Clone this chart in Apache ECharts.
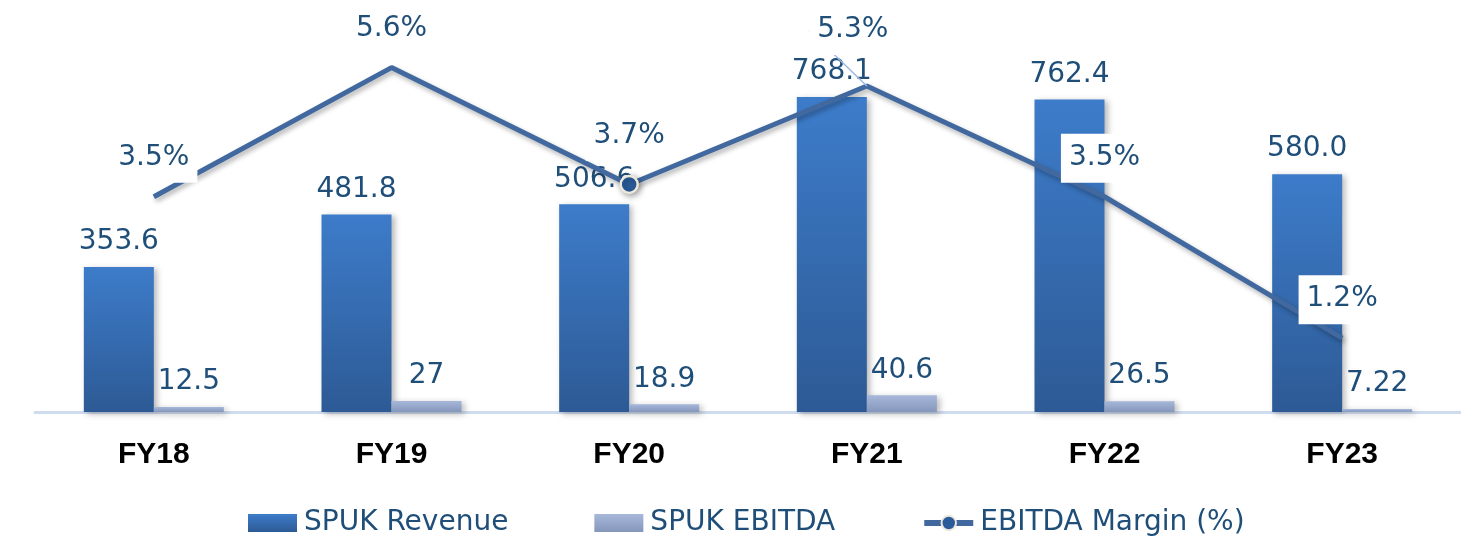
<!DOCTYPE html>
<html>
<head>
<meta charset="utf-8">
<title>SPUK Revenue, EBITDA and EBITDA Margin</title>
<script src="https://cdn.jsdelivr.net/npm/echarts@6/dist/echarts.min.js"></script>
<style>
  html, body { margin: 0; padding: 0; background: #ffffff; }
  #chart { width: 1461px; height: 539px; }
</style>
</head>
<body>
<div id="chart"></div>
<script>
// Fiscal years
const categories = ['FY18', 'FY19', 'FY20', 'FY21', 'FY22', 'FY23'];
// SPUK revenue
const revenue = [353.6, 481.8, 506.6, 768.1, 762.4, 580.0];
// SPUK EBITDA
const ebitda = [12.5, 27, 18.9, 40.6, 26.5, 7.22];
// EBITDA margin, percent
const margin = [3.5, 5.6, 3.7, 5.3, 3.5, 1.2];

const TEXT = '#1F4E79';
const LABEL_FONT = 'DejaVu Sans';

const chart = echarts.init(document.getElementById('chart'), null, { renderer: 'canvas' });

function vGrad(top, bottom) {
  return {
    type: 'linear', x: 0, y: 0, x2: 0, y2: 1,
    colorStops: [{ offset: 0, color: top }, { offset: 1, color: bottom }]
  };
}

const barShadow = {
  shadowColor: 'rgba(0,0,0,0.28)',
  shadowBlur: 6,
  shadowOffsetX: 3,
  shadowOffsetY: 2
};

// Only the FY20 point carries a visible marker; FY21's label sits off to the side with a leader line
const marginData = margin.map((v, i) => {
  const item = { value: v };
  if (i !== 2) item.symbolSize = 0;
  if (i === 3) item.labelLine = { show: true };
  return item;
});

chart.setOption({
  animation: false,
  backgroundColor: '#ffffff',
  grid: { left: 35, top: 43, width: 1447, height: 369, containLabel: false },
  legend: {
    left: 243,
    top: 504,
    itemWidth: 49,
    itemHeight: 18,
    itemGap: 86,
    textStyle: { color: TEXT, fontFamily: LABEL_FONT, fontSize: 28, padding: [0, 0, 0, 2] },
    data: [
      { name: 'SPUK Revenue', icon: 'rect' },
      { name: 'SPUK EBITDA', icon: 'rect' },
      { name: 'EBITDA Margin (%)', lineStyle: { width: 6, color: '#41699F' } }
    ]
  },
  xAxis: {
    type: 'category',
    data: categories,
    boundaryGap: true,
    axisLine: { show: true, lineStyle: { color: '#CFDCEE', width: 3 } },
    axisTick: { show: false },
    axisLabel: {
      margin: 28,
      color: '#000000',
      fontFamily: 'Liberation Sans',
      fontWeight: 'bold',
      fontSize: 30
    },
    splitLine: { show: false }
  },
  yAxis: [
    { type: 'value', min: 0, max: 900, show: false, splitLine: { show: false } },
    { type: 'value', min: 0, max: 6, show: false, splitLine: { show: false } }
  ],
  series: [
    {
      name: 'SPUK Revenue',
      type: 'bar',
      data: revenue,
      barWidth: 70,
      barGap: '0%',
      itemStyle: Object.assign({ color: vGrad('#3D7CCA', '#2D5A95') }, barShadow),
      label: {
        show: true,
        position: 'top',
        distance: 11,
        color: TEXT,
        fontFamily: LABEL_FONT,
        fontSize: 28,
        formatter: p => p.value.toFixed(1)
      },
      z: 2
    },
    {
      name: 'SPUK EBITDA',
      type: 'bar',
      data: ebitda,
      barWidth: 70,
      barGap: '0%',
      itemStyle: Object.assign({ color: vGrad('#A7B8DB', '#8496BA') }, barShadow),
      label: {
        show: true,
        position: 'top',
        distance: 11,
        color: TEXT,
        fontFamily: LABEL_FONT,
        fontSize: 28
      },
      z: 2
    },
    {
      name: 'EBITDA Margin (%)',
      type: 'line',
      yAxisIndex: 1,
      data: marginData,
      symbol: 'circle',
      symbolSize: 17,
      showAllSymbol: true,
      itemStyle: { color: '#2A5C9B', borderColor: '#ECE8DC', borderWidth: 2.5,
        shadowColor: 'rgba(0,0,0,0.35)', shadowBlur: 6, shadowOffsetX: 2, shadowOffsetY: 2 },
      lineStyle: {
        color: '#41699F',
        width: 5,
        shadowColor: 'rgba(0,0,0,0.3)',
        shadowBlur: 5,
        shadowOffsetX: 2,
        shadowOffsetY: 3
      },
      label: {
        show: true,
        position: 'top',
        distance: 14,
        color: TEXT,
        fontFamily: LABEL_FONT,
        fontSize: 28,
        lineHeight: 34,
        backgroundColor: '#ffffff',
        padding: [7, 8, 8, 8],
        formatter: p => p.value.toFixed(1) + '%'
      },
      labelLine: {
        show: false,
        lineStyle: { color: '#9DB9E3', width: 1.5 }
      },
      labelLayout: function (params) {
        if (params.dataIndex === 3) {
          return { dx: -14, dy: -17 };
        }
        return {};
      },
      z: 5
    }
  ]
});
</script>
</body>
</html>
